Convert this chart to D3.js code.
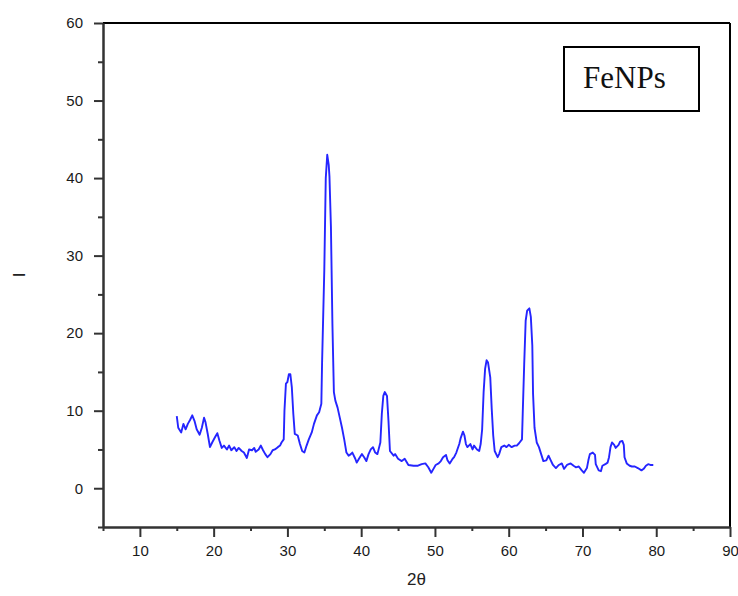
<!DOCTYPE html>
<html>
<head>
<meta charset="utf-8">
<script src="https://cdn.jsdelivr.net/npm/d3@7"></script>
<style>
  body { margin: 0; background: #fff; }
  svg { display: block; }
</style>
</head>
<body>
<div id="chart"></div>
<script>
// XRD pattern values
const twoTheta = [
  15.0, 15.2, 15.6, 15.9, 16.2, 16.5, 16.8, 17.1, 17.4, 17.7, 18.1, 18.4, 18.7, 18.9, 19.2, 19.5,
  19.8, 20.2, 20.5, 20.8, 21.1, 21.4, 21.8, 22.1, 22.4, 22.8, 23.1, 23.4, 23.8, 24.1, 24.5, 24.8,
  25.2, 25.5, 25.7, 26.1, 26.4, 26.7, 27.0, 27.3, 27.7, 28.0, 28.3, 28.7, 29.0, 29.2, 29.5, 29.6,
  29.8, 30.0, 30.2, 30.4, 30.6, 30.8, 31.0, 31.4, 31.7, 32.0, 32.3, 32.6, 32.9, 33.3, 33.6, 34.0,
  34.3, 34.6, 34.7, 35.0, 35.2, 35.4, 35.6, 35.7, 35.9, 36.1, 36.3, 36.5, 36.8, 37.1, 37.4, 37.7,
  38.0, 38.3, 38.6, 38.8, 39.2, 39.4, 39.7, 40.1, 40.4, 40.7, 41.0, 41.3, 41.6, 41.9, 42.2, 42.6,
  42.8, 43.0, 43.2, 43.5, 43.7, 43.9, 44.4, 44.6, 45.0, 45.5, 45.9, 46.4, 47.1, 47.7, 48.2, 48.7,
  49.1, 49.5, 49.8, 50.1, 50.5, 50.8, 51.1, 51.5, 51.7, 52.0, 52.4, 52.6, 52.9, 53.3, 53.5, 53.8,
  54.0, 54.2, 54.4, 54.8, 55.1, 55.3, 55.7, 56.0, 56.2, 56.4, 56.6, 56.8, 57.0, 57.2, 57.5, 57.7,
  57.9, 58.1, 58.5, 58.7, 59.0, 59.4, 59.7, 60.0, 60.4, 60.8, 61.1, 61.4, 61.8, 61.9, 62.1, 62.3,
  62.5, 62.8, 63.0, 63.2, 63.3, 63.5, 63.8, 64.1, 64.4, 64.7, 65.1, 65.4, 65.7, 66.0, 66.4, 66.8,
  67.2, 67.5, 67.9, 68.4, 68.8, 69.1, 69.5, 69.9, 70.2, 70.6, 70.8, 71.0, 71.4, 71.7, 71.8, 72.2,
  72.5, 72.7, 73.1, 73.4, 73.6, 73.8, 74.0, 74.3, 74.5, 74.9, 75.1, 75.4, 75.6, 75.7, 76.0, 76.4,
  76.7, 77.1, 77.5, 78.0, 78.3, 78.6, 78.9, 79.2, 79.6
];
const intensity = [
  9.3, 7.8, 7.2, 8.3, 7.6, 8.3, 8.8, 9.4, 8.7, 7.6, 6.9, 7.8, 9.1, 8.5, 7.0, 5.3,
  5.9, 6.6, 7.1, 6.1, 5.2, 5.5, 5.0, 5.5, 4.9, 5.3, 4.8, 5.2, 4.8, 4.6, 3.9, 5.0,
  4.9, 5.2, 4.7, 5.0, 5.5, 4.9, 4.4, 4.0, 4.4, 4.9, 5.0, 5.3, 5.5, 5.9, 6.3, 10.0,
  13.5, 13.7, 14.7, 14.7, 13.0, 9.6, 7.0, 6.8, 5.7, 4.8, 4.6, 5.5, 6.3, 7.2, 8.3, 9.4,
  9.8, 10.9, 16.2, 28.1, 40.0, 43.0, 41.7, 40.2, 33.7, 21.2, 12.4, 11.3, 10.4, 9.1, 7.8, 6.3,
  4.6, 4.2, 4.4, 4.6, 3.8, 3.3, 3.8, 4.4, 4.0, 3.5, 4.4, 5.0, 5.3, 4.6, 4.4, 5.9,
  9.6, 11.9, 12.4, 11.9, 8.7, 4.8, 4.2, 4.4, 3.8, 3.5, 3.8, 3.0, 2.9, 2.9, 3.1, 3.2,
  2.7, 2.0, 2.5, 3.0, 3.2, 3.5, 4.0, 4.3, 3.6, 3.2, 3.8, 4.0, 4.6, 5.7, 6.5, 7.3,
  6.8, 5.7, 5.3, 5.7, 5.0, 5.5, 5.0, 4.8, 5.7, 7.6, 12.4, 15.4, 16.5, 16.2, 14.3, 10.2,
  6.8, 4.8, 4.0, 4.4, 5.3, 5.5, 5.3, 5.6, 5.3, 5.5, 5.5, 5.8, 6.3, 9.6, 16.0, 21.6,
  22.9, 23.2, 22.1, 18.4, 12.2, 7.8, 5.9, 5.3, 4.4, 3.5, 3.6, 4.2, 3.6, 3.0, 2.6, 3.0,
  3.2, 2.5, 3.0, 3.2, 2.9, 2.7, 2.8, 2.3, 2.0, 2.6, 3.6, 4.4, 4.6, 4.3, 3.1, 2.3,
  2.2, 2.9, 3.1, 3.3, 4.0, 5.3, 5.9, 5.6, 5.2, 5.6, 6.0, 6.1, 5.6, 4.0, 3.2, 2.9,
  2.8, 2.8, 2.6, 2.3, 2.5, 2.9, 3.1, 3.0, 3.0
];
const xMajorTicks = [10, 20, 30, 40, 50, 60, 70, 80, 90];
const xMinorTicks = [5, 15, 25, 35, 45, 55, 65, 75, 85];
const yMajorTicks = [0, 10, 20, 30, 40, 50, 60];
const yMinorTicks = [-5, 5, 15, 25, 35, 45, 55];

const width = 738;
const height = 596;
const margin = { top: 23, right: 8, bottom: 69, left: 103 };

const svg = d3.select("#chart").append("svg")
  .attr("width", width)
  .attr("height", height);

// Scales
const x = d3.scaleLinear()
  .domain([5, 90])
  .range([margin.left, width - margin.right]);

const y = d3.scaleLinear()
  .domain([-5, 60])
  .range([height - margin.bottom, margin.top]);

const axisColor = "#333";
const tickFont = "'Liberation Sans', Arial, sans-serif";

// Top and right frame lines
svg.append("line")
  .attr("x1", x(5)).attr("x2", x(90))
  .attr("y1", y(60)).attr("y2", y(60))
  .style("stroke", "#000")
  .style("stroke-width", 2);

svg.append("line")
  .attr("x1", x(90)).attr("x2", x(90))
  .attr("y1", y(60)).attr("y2", y(-5))
  .style("stroke", "#000")
  .style("stroke-width", 2);

// Bottom axis
const xAxis = svg.append("g")
  .attr("transform", `translate(0, ${y(-5)})`);

xAxis.call(d3.axisBottom(x).tickValues(xMajorTicks).tickSize(10).tickSizeOuter(0).tickPadding(8));
xAxis.append("g")
  .call(d3.axisBottom(x).tickValues(xMinorTicks).tickSize(4).tickSizeOuter(0).tickFormat(""));

xAxis.selectAll(".domain")
  .style("stroke", axisColor)
  .style("stroke-width", 2);
xAxis.selectAll(".tick line")
  .style("stroke", axisColor)
  .style("stroke-width", 2);
xAxis.selectAll(".tick text")
  .style("font-family", tickFont)
  .style("font-size", "15px")
  .style("fill", "#1a1a1a");

// Left axis
const yAxis = svg.append("g")
  .attr("transform", `translate(${x(5)}, 0)`);

yAxis.call(d3.axisLeft(y).tickValues(yMajorTicks).tickSize(9).tickSizeOuter(0).tickPadding(11));
yAxis.append("g")
  .call(d3.axisLeft(y).tickValues(yMinorTicks).tickSize(5).tickSizeOuter(0).tickFormat(""));

yAxis.selectAll(".domain")
  .style("stroke", axisColor)
  .style("stroke-width", 2);
yAxis.selectAll(".tick line")
  .style("stroke", axisColor)
  .style("stroke-width", 2);
yAxis.selectAll(".tick text")
  .style("font-family", tickFont)
  .style("font-size", "15px")
  .style("fill", "#1a1a1a");

// Axis titles
svg.append("text")
  .attr("x", (x(5) + x(90)) / 2)
  .attr("y", 585)
  .attr("text-anchor", "middle")
  .style("font-family", tickFont)
  .style("font-size", "17px")
  .style("fill", "#222")
  .text("2θ");

svg.append("text")
  .attr("transform", `translate(25, ${(y(-5) + y(60)) / 2}) rotate(-90)`)
  .attr("text-anchor", "middle")
  .style("font-family", tickFont)
  .style("font-size", "17px")
  .style("fill", "#222")
  .text("I");

// Pattern line
const points = twoTheta.map((d, i) => [d, intensity[i]]);

const line = d3.line()
  .x(d => x(d[0]))
  .y(d => y(d[1]));

svg.append("path")
  .datum(points)
  .attr("d", line)
  .style("fill", "none")
  .style("stroke", "#2525ff")
  .style("stroke-width", 1.9)
  .style("stroke-linejoin", "round");

// Sample label box
const label = svg.append("g").attr("transform", "translate(564, 47)");

label.append("rect")
  .attr("width", 135)
  .attr("height", 64)
  .style("fill", "#fff")
  .style("stroke", "#000")
  .style("stroke-width", 2);

label.append("text")
  .attr("x", 19)
  .attr("y", 41)
  .style("font-family", "'Liberation Serif', 'Times New Roman', serif")
  .style("font-size", "31px")
  .style("fill", "#111")
  .text("FeNPs");
</script>
</body>
</html>
